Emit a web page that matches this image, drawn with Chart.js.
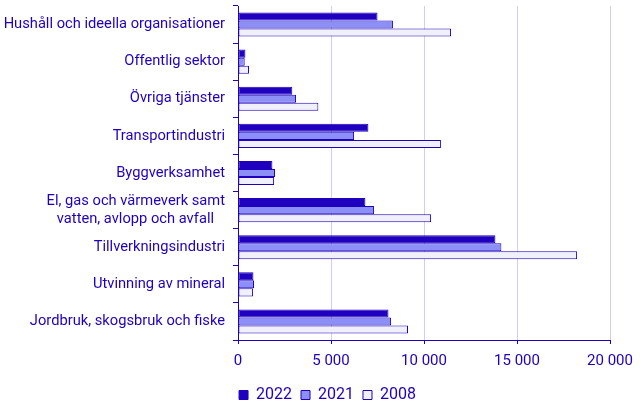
<!DOCTYPE html>
<html>
<head>
<meta charset="utf-8">
<script src="https://cdn.jsdelivr.net/npm/chart.js"></script>
<style>
  html, body { margin: 0; padding: 0; background: #fff; }
  #wrap { width: 643px; height: 416px; }
</style>
</head>
<body>
<div id="wrap"><canvas id="chart"></canvas></div>
<script>
// Categories, top to bottom
const categories = [
  'Hushåll och ideella organisationer',
  'Offentlig sektor',
  'Övriga tjänster',
  'Transportindustri',
  'Byggverksamhet',
  ['El, gas och värmeverk samt', 'vatten, avlopp och avfall\u00a0\u00a0\u00a0'],
  'Tillverkningsindustri',
  'Utvinning av mineral',
  'Jordbruk, skogsbruk och fiske'
];

const values2022 = [7500, 400, 2920, 7010, 1850, 6850, 13840, 830, 8090];
const values2021 = [8330, 360, 3120, 6240, 1990, 7310, 14160, 860, 8230];
const values2008 = [11450, 590, 4320, 10910, 1940, 10380, 18230, 810, 9140];

const xTicks = [0, 5000, 10000, 15000, 20000];

const dark = '#1f00bf';
const textColor = '#2000c0';
const gridColor = '#d4ccf2';

function fmt(v) {
  return String(v).replace(/\B(?=(\d{3})+(?!\d))/g, ' ');
}

Chart.defaults.font.family = 'Roboto';
Chart.defaults.font.size = 15;
Chart.defaults.color = textColor;

// legend sits a bit right of the canvas centre
const shiftLegend = {
  id: 'shiftLegend',
  beforeDraw(chart) {
    if (chart.legend) { chart.legend.left = 12; chart.legend.right = 643; }
  }
};

const ctx = document.getElementById('chart').getContext('2d');
new Chart(ctx, {
  type: 'bar',
  data: {
    labels: categories,
    datasets: [
      { label: '2022', data: values2022, backgroundColor: dark, borderColor: dark, borderWidth: 1, borderSkipped: false },
      { label: '2021', data: values2021, backgroundColor: '#8c8ff5', borderColor: dark, borderWidth: 1, borderSkipped: false },
      { label: '2008', data: values2008, backgroundColor: '#f0f0fa', borderColor: dark, borderWidth: 1, borderSkipped: false }
    ]
  },
  options: {
    indexAxis: 'y',
    responsive: true,
    maintainAspectRatio: false,
    animation: false,
    categoryPercentage: 0.65,
    barPercentage: 1.0,
    layout: { padding: { left: 0, right: 33, top: 6, bottom: 3 } },
    plugins: {
      legend: {
        position: 'bottom',
        labels: { boxWidth: 9, boxHeight: 9, padding: 9, color: textColor, font: { size: 16 } }
      },
      tooltip: { enabled: false }
    },
    scales: {
      x: {
        min: 0,
        max: 20000,
        afterBuildTicks: scale => { scale.ticks = xTicks.map(v => ({ value: v })); },
        ticks: { callback: v => fmt(v), padding: 8, color: textColor, maxRotation: 0 },
        grid: { color: gridColor, lineWidth: 1, tickColor: dark, tickLength: 4 },
        border: { color: dark, width: 1 }
      },
      y: {
        afterFit: scale => { scale.width = 238; scale.paddingTop = 0; scale.paddingBottom = 0; },
        ticks: { padding: 8, color: textColor, autoSkip: false, font: { size: 14.7, lineHeight: 1.22 } },
        grid: { offset: true, drawOnChartArea: false, tickColor: dark, tickLength: 5 },
        border: { color: dark, width: 1 }
      }
    }
  },
  plugins: [shiftLegend]
});
</script>
</body>
</html>
